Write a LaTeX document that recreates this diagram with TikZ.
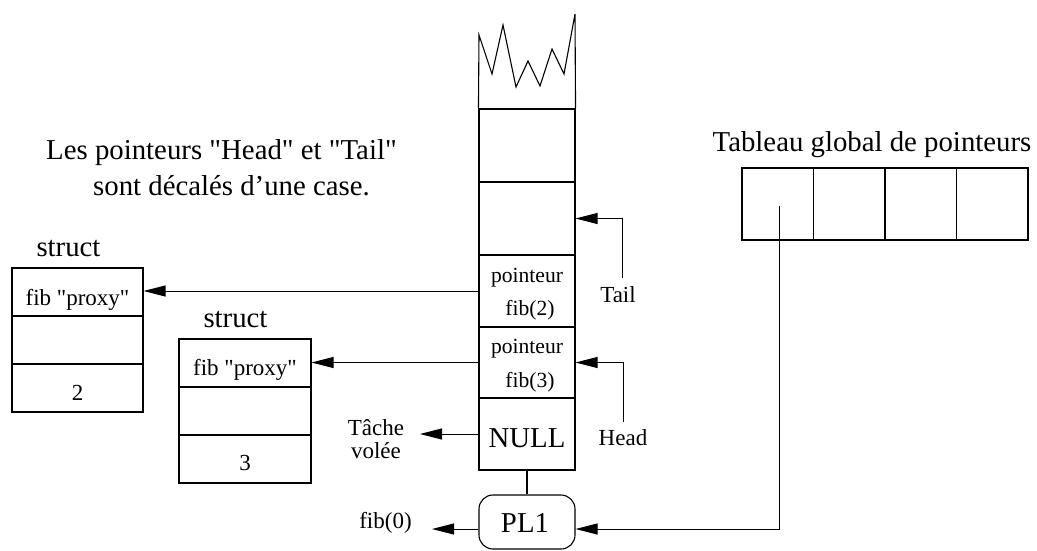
\documentclass[tikz,border=0pt]{standalone}
\usepackage{fontspec}
\setmainfont{Liberation Serif}[Ligatures=TeXOff]
\usetikzlibrary{arrows.meta}
\begin{document}
\begin{tikzpicture}[x=1pt,y=-1pt,line width=1.1pt,
  cellbox/.style={draw,inner sep=0pt},
  txtL/.style={font=\fontsize{28.8}{30}\selectfont,inner sep=0pt,anchor=base},
  txtM/.style={font=\fontsize{23}{24}\selectfont,inner sep=0pt,anchor=base},
  txtS/.style={font=\fontsize{21.6}{22}\selectfont,inner sep=0pt,anchor=base},
  ptr/.style={-{Triangle[length=22pt,width=11pt]},line width=1pt}]
\useasboundingbox (0,0) rectangle (1037,550);

% note
\node[txtL] (note1) at (221.5,159) {Les pointeurs "Head" et "Tail"};
\node[txtL] (note2) at (231.5,195) {sont décalés d’une case.};

% stack of cells
\node[cellbox,minimum width=96pt,minimum height=73pt] (c1) at (527,145.5) {};
\node[cellbox,minimum width=96pt,minimum height=73pt] (c2) at (527,218.5) {};
\node[cellbox,minimum width=96pt,minimum height=72pt] (c3) at (527,291) {};
\node[cellbox,minimum width=96pt,minimum height=71pt] (c4) at (527,362.5) {};
\node[cellbox,minimum width=96pt,minimum height=72pt] (cnull) at (527,434) {};
\draw (c1.north west) -- (479,35) -- (492,74) -- (503,25) -- (516,87) -- (528,61)
      -- (540,86) -- (552,49) -- (564,74) -- (575,14) -- (c1.north east);
\node[txtS] (p2a) at (527,282) {pointeur};
\node[txtS] (p2b) at (530,315) {fib(2)};
\node[txtS] (p3a) at (527,353) {pointeur};
\node[txtS] (p3b) at (530,387) {fib(3)};
\node[txtL] (nulltxt) at (527,447) {NULL};

% PL1
\node[cellbox,rounded corners=14pt,minimum width=96pt,minimum height=54pt] (pl) at (527,522) {};
\node[txtL] (pltxt) at (525,532) {PL1};
\draw (cnull.south) -- (pl.north);
\coordinate (f0tip) at (432,529);
\draw[ptr] (pl.west |- f0tip) -- (f0tip);
\node[txtM] (fib0) at (385.5,528) {fib(0)};

% global array
\foreach \i/\x in {1/777.75,2/849.25,3/920.75,4/992.25}
  \node[cellbox,minimum width=71.5pt,minimum height=72pt] (g\i) at (\x,204) {};
\node[txtL] (gtitle) at (872,151) {Tableau global de pointeurs};
\coordinate (gstart) at (779,206);
\draw[ptr] (gstart) |- (pl.east |- f0tip);

% Tail and Head
\coordinate (tailend) at (622,278);
\draw[ptr] (tailend) |- (c2.east);
\node[txtM] (tail) at (618,302) {Tail};
\coordinate (headend) at (623,422);
\draw[ptr] (headend) |- (c4.east);
\node[txtM] (head) at (623,445) {Head};

% stolen task
\coordinate (ttip) at (420,434);
\draw[ptr] (cnull.west) -- (ttip);
\node[txtM] (t1) at (376,435) {Tâche};
\node[txtM] (t2) at (376,458) {volée};

% first struct
\node[cellbox,minimum width=131pt,minimum height=48pt] (s1a) at (77.5,292) {};
\node[cellbox,minimum width=131pt,minimum height=48pt] (s1b) at (77.5,340) {};
\node[cellbox,minimum width=131pt,minimum height=48pt] (s1c) at (77.5,388) {};
\node[txtL] (s1t) at (68.5,256) {struct};
\node[txtM] (s1p) at (77.5,305) {fib "proxy"};
\node[txtM] (s1n) at (77.5,400) {2};

% second struct
\node[cellbox,minimum width=132pt,minimum height=48pt] (s2a) at (245,363) {};
\node[cellbox,minimum width=132pt,minimum height=48pt] (s2b) at (245,411) {};
\node[cellbox,minimum width=132pt,minimum height=48pt] (s2c) at (245,459) {};
\node[txtL] (s2t) at (235.5,327) {struct};
\node[txtM] (s2p) at (245,375) {fib "proxy"};
\node[txtM] (s2n) at (245,470) {3};

% pointers from the stack to the structs
\draw[ptr] (c3.west) -- (c3.west -| s1a.east);
\draw[ptr] (c4.west) -- (c4.west -| s2a.east);
\end{tikzpicture}
\end{document}
